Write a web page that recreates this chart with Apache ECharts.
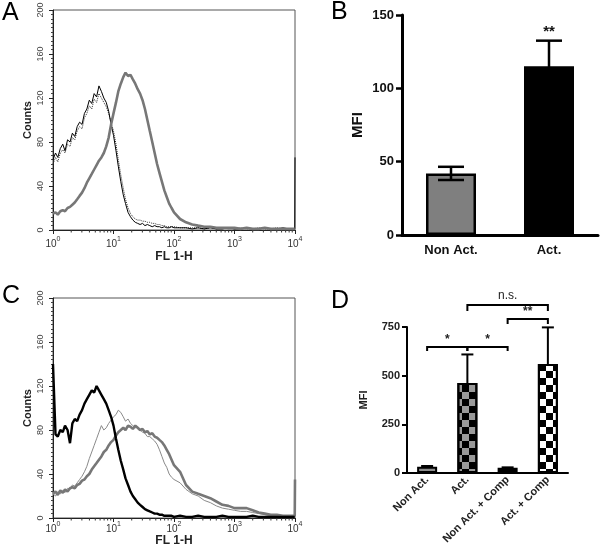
<!DOCTYPE html>
<html><head><meta charset="utf-8">
<script src="https://cdn.jsdelivr.net/npm/echarts@6/dist/echarts.min.js"></script>
<style>html,body{margin:0;padding:0;background:#fff}#c{width:600px;height:549px}</style>
</head><body><div id="c"></div>
<script>
// ---------- DATA ----------
// FL1 channel positions (log scale) shared by histograms
const fl1Channels = [1, 1.1, 1.2, 1.32, 1.45, 1.58, 1.74, 1.91, 2.09, 2.29,
  2.51, 2.75, 3.02, 3.31, 3.63, 3.98, 4.37, 4.79, 5.25, 5.75,
  6.31, 6.92, 7.59, 8.32, 9.12, 10, 11, 12, 13.2, 14.5,
  15.8, 17.4, 19.1, 20.9, 22.9, 25.1, 27.5, 30.2, 33.1, 36.3,
  39.8, 43.7, 47.9, 52.5, 57.5, 63.1, 69.2, 75.9, 83.2, 91.2,
  100, 126, 158, 200, 251, 316, 398, 501, 631, 794,
  1000, 1259, 1585, 1995, 2512, 3162, 3981, 5012, 6310, 7943,
  9900, 10000];

// Panel A histograms (counts)
const aBlackSolid = [64, 70, 66, 74, 78, 72, 82, 80, 88, 85,
  94, 98, 96, 106, 110, 118, 115, 124, 121, 131,
  126, 120, 116, 108, 96, 86, 72, 58, 44, 32,
  24, 16, 12, 9, 7, 6, 5, 6, 4, 5,
  4, 3, 4, 3, 3, 2, 3, 2, 2, 3,
  2, 2, 2, 1, 2, 1, 2, 1, 1, 2,
  1, 1, 2, 1, 1, 2, 1, 1, 2, 1,
  1, 66];
const aBlackDotted = [60, 66, 62, 70, 73, 70, 78, 76, 84, 82,
  90, 94, 92, 102, 106, 113, 110, 119, 116, 124,
  120, 116, 112, 106, 98, 90, 78, 64, 50, 38,
  28, 20, 15, 12, 10, 9, 9, 8, 8, 7,
  7, 6, 6, 5, 5, 4, 4, 3, 3, 3,
  3, 2, 2, 2, 2, 1, 2, 1, 2, 1,
  1, 2, 1, 1, 2, 1, 1, 2, 1, 1,
  1, 1];
const aGrayThick = [15, 16, 14, 17, 18, 17, 20, 21, 23, 25,
  28, 31, 34, 38, 43, 47, 51, 55, 59, 63,
  66, 70, 76, 84, 96, 106, 116, 126, 133, 139,
  143, 140, 141, 137, 133, 128, 124, 118, 110, 100,
  90, 80, 70, 60, 52, 44, 36, 30, 24, 20,
  16, 10, 7, 5, 4, 3, 3, 2, 2, 2,
  2, 1, 2, 1, 1, 2, 1, 1, 1, 1,
  1, 1];

// Panel C histograms (counts)
const cBlackThick = [140, 76, 74, 80, 78, 84, 80, 68, 86, 90,
  88, 94, 98, 104, 108, 112, 116, 114, 120, 116,
  112, 108, 104, 98, 92, 84, 72, 62, 52, 44,
  36, 30, 24, 20, 17, 14, 12, 10, 8, 7,
  6, 5, 4, 4, 3, 3, 2, 2, 2, 2,
  1, 2, 1, 1, 2, 1, 1, 1, 2, 1,
  1, 1, 1, 2, 1, 1, 1, 1, 1, 1,
  1, 1];
const cGrayThin = [22, 20, 24, 22, 25, 23, 27, 26, 30, 29,
  32, 35, 38, 42, 47, 54, 60, 66, 72, 78,
  84, 80, 82, 86, 89, 92, 94, 98, 96, 92,
  88, 90, 86, 84, 82, 83, 80, 78, 77, 74,
  74, 72, 70, 67, 62, 56, 50, 46, 40, 37,
  35, 32, 26, 22, 20, 16, 14, 11, 9, 8,
  7, 6, 6, 5, 4, 3, 2, 2, 1, 1,
  1, 1];
const cGrayThick = [22, 24, 21, 25, 23, 26, 24, 27, 28, 27,
  30, 31, 34, 35, 38, 40, 44, 47, 50, 53,
  56, 60, 62, 66, 69, 71, 75, 78, 80, 82,
  80, 84, 83, 81, 84, 82, 80, 81, 78, 79,
  76, 77, 74, 73, 71, 69, 66, 62, 58, 53,
  48, 42, 30, 24, 22, 20, 18, 15, 12, 11,
  9, 9, 9, 7, 5, 4, 3, 3, 2, 2,
  2, 35];

const logExponents = ['0', '1', '2', '3', '4'];
const logMinorTicks = [2, 3, 4, 5, 6, 7, 8, 9, 20, 30, 40, 50, 60, 70, 80, 90,
  200, 300, 400, 500, 600, 700, 800, 900, 2000, 3000, 4000, 5000, 6000, 7000, 8000, 9000];

// Panel B
const bCategories = ['Non Act.', 'Act.'];
const bMFI = [42, 115];
const bSEM = [4.5, 17.5];
const bSig = ['', '**'];

// Panel D
const dCategories = ['Non Act.', 'Act.', 'Non Act. + Comp', 'Act. + Comp'];
const dMFI = [32, 462, 27, 560];
const dSEM = [4, 147, 2, 188];
const dBracketFrom = [0, 1, 2, 1];
const dBracketTo = [1, 2, 3, 3];
const dBracketY = [647, 647, 791, 863];
const dBracketLegY = [627, 627, 765, 832];
const dBracketText = ['*', '*', '**', 'n.s.'];

// ---------- STYLE ----------
const FONT = '"Liberation Sans", Arial, Helvetica, sans-serif';
const bColors = ['#7f7f7f', '#000000'];
const checker = {symbol: 'rect', symbolSize: 1, dashArrayX: [[7, 7], [0, 7, 7, 0]], dashArrayY: [7, 0], rotation: 0, color: '#000'};
const dStyles = [
  {color: '#8c8c8c'},
  {color: '#9a9a9a', decal: checker},
  {color: '#000000'},
  {color: '#ffffff', decal: checker}
];

const pairs = ys => fl1Channels.map((x, i) => [x, ys[i]]);

function logXAxis(grid, labelMargin, nameGap) {
  return {
    type: 'log', logBase: 10, min: 1, max: 10000, gridIndex: grid,
    axisLine: {show: true, lineStyle: {color: '#222', width: 1}},
    axisTick: {show: true, length: 4, lineStyle: {color: '#222', width: 1}},
    splitLine: {show: false},
    axisLabel: {
      margin: labelMargin, color: '#333', fontFamily: FONT, fontSize: 10,
      formatter: (v, i) => '{b|10}{s|' + logExponents[i] + '}',
      rich: {
        b: {fontSize: 10, fontFamily: FONT, color: '#333', lineHeight: 13, verticalAlign: 'bottom'},
        s: {fontSize: 7, fontFamily: FONT, color: '#333', lineHeight: 8, verticalAlign: 'top'}
      }
    },
    name: 'FL 1-H', nameLocation: 'middle', nameGap: nameGap,
    nameTextStyle: {fontFamily: FONT, fontSize: 12, fontWeight: 'bold', color: '#222'}
  };
}
function countYAxis(grid) {
  return {
    type: 'value', min: 0, max: 200, interval: 40, gridIndex: grid,
    axisLine: {show: true, lineStyle: {color: '#222', width: 1}},
    axisTick: {show: true, length: 4, lineStyle: {color: '#222'}},
    minorTick: {show: true, splitNumber: 10, length: 2, lineStyle: {color: '#444'}},
    splitLine: {show: false},
    axisLabel: {rotate: 90, margin: 8, fontSize: 9, fontFamily: FONT, color: '#444'},
    name: 'Counts', nameLocation: 'middle', nameGap: 20,
    nameTextStyle: {fontFamily: FONT, fontSize: 11, fontWeight: 'bold', color: '#222'}
  };
}
function minorTickSeries(axis) {
  return {
    type: 'custom', xAxisIndex: axis, yAxisIndex: axis, clip: false, silent: true, z: 1,
    data: logMinorTicks.map(v => [v, 0]),
    renderItem: (p, api) => {
      const c = api.coord([api.value(0), 0]);
      return {type: 'line', shape: {x1: c[0], y1: c[1], x2: c[0], y2: c[1] + 2.5}, style: {stroke: '#333', lineWidth: 1}};
    }
  };
}
function histLine(axis, ys, color, width, type, z) {
  return {
    type: 'line', xAxisIndex: axis, yAxisIndex: axis, data: pairs(ys),
    showSymbol: false, symbol: 'none', silent: true, z: z,
    lineStyle: {color: color, width: width, type: type}
  };
}

const chart = echarts.init(document.getElementById('c'), null, {renderer: 'canvas'});
chart.setOption({
  animation: false,
  backgroundColor: '#fff',
  grid: [
    {left: 53, top: 10, width: 242, height: 220, show: true, borderColor: '#555', borderWidth: 1, outerBoundsMode: 'none'},
    {left: 402, top: 15, width: 196, height: 220, outerBoundsMode: 'none'},
    {left: 53, top: 298, width: 242, height: 220, show: true, borderColor: '#555', borderWidth: 1, outerBoundsMode: 'none'},
    {left: 407, top: 327, width: 161, height: 146, outerBoundsMode: 'none'}
  ],
  xAxis: [
    logXAxis(0, 6, 21),
    {type: 'category', gridIndex: 1, data: bCategories,
      axisLine: {show: true, lineStyle: {color: '#000', width: 3}}, axisTick: {show: false},
      axisLabel: {margin: 9, fontFamily: FONT, fontSize: 13, fontWeight: 'bold', color: '#111'}},
    logXAxis(2, 3, 13),
    {type: 'category', gridIndex: 3, data: dCategories,
      axisLine: {show: true, lineStyle: {color: '#000', width: 2}}, axisTick: {show: false},
      axisLabel: {rotate: 45, interval: 0, margin: 5, fontFamily: FONT, fontSize: 11, fontWeight: 'bold', color: '#222'}}
  ],
  yAxis: [
    countYAxis(0),
    {type: 'value', gridIndex: 1, min: 0, max: 150, interval: 50,
      axisLine: {show: true, lineStyle: {color: '#000', width: 3}},
      axisTick: {show: true, length: 6, lineStyle: {color: '#000', width: 2.5}},
      splitLine: {show: false},
      axisLabel: {margin: 8, fontFamily: FONT, fontSize: 13, fontWeight: 'bold', color: '#111'},
      name: 'MFI', nameLocation: 'middle', nameGap: 37,
      nameTextStyle: {fontFamily: FONT, fontSize: 15, fontWeight: 'bold', color: '#111'}},
    countYAxis(2),
    {type: 'value', gridIndex: 3, min: 0, max: 750, interval: 250,
      axisLine: {show: true, lineStyle: {color: '#000', width: 2}},
      axisTick: {show: true, length: 5, lineStyle: {color: '#000', width: 2}},
      splitLine: {show: false},
      axisLabel: {margin: 7, fontFamily: FONT, fontSize: 11, fontWeight: 'bold', color: '#222'},
      name: 'MFI', nameLocation: 'middle', nameGap: 38,
      nameTextStyle: {fontFamily: FONT, fontSize: 11, fontWeight: 'bold', color: '#222'}}
  ],
  graphic: [
    {type: 'text', x: 2, y: 1, style: {text: 'A', font: '25px ' + FONT, fill: '#000', textVerticalAlign: 'top'}},
    {type: 'text', x: 331, y: 0, style: {text: 'B', font: '25px ' + FONT, fill: '#000', textVerticalAlign: 'top'}},
    {type: 'text', x: 2, y: 284, style: {text: 'C', font: '25px ' + FONT, fill: '#000', textVerticalAlign: 'top'}},
    {type: 'text', x: 331, y: 289, style: {text: 'D', font: '25px ' + FONT, fill: '#000', textVerticalAlign: 'top'}}
  ],
  series: [
    // Panel A
    minorTickSeries(0),
    histLine(0, aBlackDotted, '#333', 1, 'dotted', 2),
    histLine(0, aBlackSolid, '#000', 1, 'solid', 3),
    histLine(0, aGrayThick, '#777', 2.6, 'solid', 4),
    // Panel C
    minorTickSeries(2),
    histLine(2, cGrayThin, '#8a8a8a', 1, 'solid', 2),
    histLine(2, cGrayThick, '#777', 2.6, 'solid', 3),
    histLine(2, cBlackThick, '#000', 2.4, 'solid', 4),
    // Panel B bars
    {type: 'bar', xAxisIndex: 1, yAxisIndex: 1, barWidth: 50, silent: true,
      data: bMFI.map((v, i) => ({value: v, itemStyle: {color: bColors[i]}})),
      itemStyle: {borderColor: '#000', borderWidth: 2.5}},
    {type: 'custom', xAxisIndex: 1, yAxisIndex: 1, clip: false, silent: true, z: 5,
      data: bMFI.map((v, i) => [i, v, bSEM[i]]),
      renderItem: (p, api) => {
        const i = api.value(0), v = api.value(1), e = api.value(2);
        const hi = api.coord([i, v + e]), lo = api.coord([i, v - e]);
        const w = 13;
        const kids = [
          {type: 'line', shape: {x1: hi[0], y1: hi[1], x2: lo[0], y2: lo[1]}, style: {stroke: '#000', lineWidth: 2.5}},
          {type: 'line', shape: {x1: hi[0] - w, y1: hi[1], x2: hi[0] + w, y2: hi[1]}, style: {stroke: '#000', lineWidth: 2.5}},
          {type: 'line', shape: {x1: lo[0] - w, y1: lo[1], x2: lo[0] + w, y2: lo[1]}, style: {stroke: '#000', lineWidth: 2.5}}
        ];
        const s = bSig[p.dataIndex];
        if (s) kids.push({type: 'text', style: {text: s, x: hi[0], y: hi[1] - 9, textAlign: 'center', textVerticalAlign: 'middle', font: 'bold 15px ' + FONT, fill: '#111'}});
        return {type: 'group', children: kids};
      }},
    // Panel D bars
    {type: 'bar', xAxisIndex: 3, yAxisIndex: 3, barWidth: 20, silent: true,
      data: dMFI.map((v, i) => ({value: v, itemStyle: dStyles[i]})),
      itemStyle: {borderColor: '#000', borderWidth: 2}},
    {type: 'custom', xAxisIndex: 3, yAxisIndex: 3, clip: false, silent: true, z: 5,
      data: dMFI.map((v, i) => [i, v, dSEM[i]]),
      renderItem: (p, api) => {
        const i = api.value(0), v = api.value(1), e = api.value(2);
        const hi = api.coord([i, v + e]), mid = api.coord([i, v]);
        const w = 6;
        return {type: 'group', children: [
          {type: 'line', shape: {x1: hi[0], y1: hi[1], x2: mid[0], y2: mid[1]}, style: {stroke: '#000', lineWidth: 2}},
          {type: 'line', shape: {x1: hi[0] - w, y1: hi[1], x2: hi[0] + w, y2: hi[1]}, style: {stroke: '#000', lineWidth: 2}}
        ]};
      }},
    {type: 'custom', xAxisIndex: 3, yAxisIndex: 3, clip: false, silent: true, z: 6,
      encode: {x: 0, y: 2},
      data: dBracketFrom.map((f, i) => [f, dBracketTo[i], dBracketY[i], dBracketLegY[i]]),
      renderItem: (p, api) => {
        const a = api.value(0), b = api.value(1), y = api.value(2), ly = api.value(3);
        const p1 = api.coord([a, y]), p2 = api.coord([b, y]);
        const l1 = api.coord([a, ly]), l2 = api.coord([b, ly]);
        const t = dBracketText[p.dataIndex];
        const isStar = t.indexOf('*') === 0;
        return {type: 'group', children: [
          {type: 'polyline', shape: {points: [l1, p1, p2, l2]}, style: {stroke: '#000', lineWidth: 2, fill: null}},
          {type: 'text', style: {text: t, x: (p1[0] + p2[0]) / 2, y: p1[1] - (isStar ? 1 : 3),
            textAlign: 'center', textVerticalAlign: 'bottom',
            font: (isStar ? 'bold 12px ' : '12px ') + FONT, fill: '#222'}}
        ]};
      }}
  ]
});
</script></body></html>
